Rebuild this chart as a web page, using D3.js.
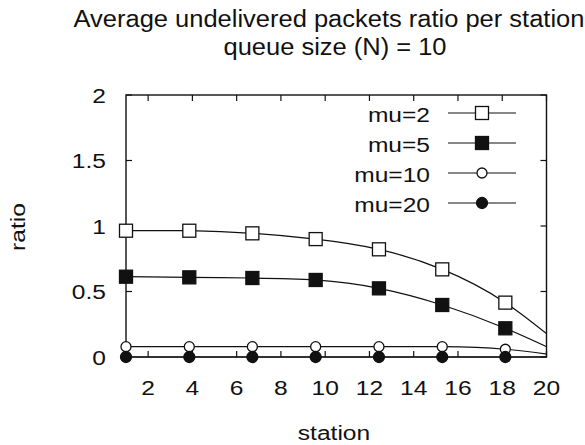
<!DOCTYPE html>
<html>
<head>
<meta charset="utf-8">
<script src="https://cdn.jsdelivr.net/npm/d3@7"></script>
<style>
  body { margin: 0; background: #fff; }
  text { font-family: "Liberation Sans", Arial, sans-serif; fill: #111; }
</style>
</head>
<body>
<div id="chart"></div>
<script>
// data (last point sits past the right edge, clipped)
const stations = [1, 3.86, 6.71, 9.57, 12.43, 15.29, 18.14, 21]
const mu2  = [0.964, 0.964, 0.944, 0.900, 0.822, 0.669, 0.415, 0.04]
const mu5  = [0.613, 0.608, 0.603, 0.588, 0.524, 0.397, 0.219, 0.0]
const mu10 = [0.079, 0.079, 0.079, 0.079, 0.079, 0.079, 0.059, 0.0]
const mu20 = [0, 0, 0, 0, 0, 0, 0, 0]
const seriesNames = ['mu=2', 'mu=5', 'mu=10', 'mu=20']
const xTicks = [2, 4, 6, 8, 10, 12, 14, 16, 18, 20]
const yTicks = [0, 0.5, 1, 1.5, 2]

const dim = { width: 585, height: 445, left: 126, right: 546.5, top: 95, bottom: 357 }
const fontSize = 21
const stretch = 1.17   // the picture's lettering is a bit wide

const svg = d3.select('#chart')
    .append('svg')
    .attr('width', dim.width)
    .attr('height', dim.height)

const xScale = d3.scaleLinear().domain([1, 20]).range([dim.left, dim.right])
const yScale = d3.scaleLinear().domain([0, 2]).range([dim.bottom, dim.top])

// place a text at (x, y), stretched horizontally
function label(parent, x, y, txt, anchor, size, sx, rot) {
    return parent.append('text')
        .attr('transform', `translate(${x},${y})` + (rot ? ` rotate(${rot})` : '') + ` scale(${sx},1)`)
        .attr('text-anchor', anchor)
        .style('font-size', size + 'px')
        .text(txt)
}

svg.append('clipPath').attr('id', 'plot-clip')
    .append('rect')
    .attr('x', dim.left).attr('y', dim.top - 10)
    .attr('width', dim.right - dim.left).attr('height', dim.bottom - dim.top + 20)

// title
label(svg, 329, 27, 'Average undelivered packets ratio per station', 'middle', 23.5, 1.085)
label(svg, 335, 55, 'queue size (N) = 10', 'middle', 23.5, 1.085)

// frame
svg.append('rect')
    .attr('x', dim.left).attr('y', dim.top)
    .attr('width', dim.right - dim.left).attr('height', dim.bottom - dim.top)
    .attr('fill', 'none').attr('stroke', '#111').attr('stroke-width', 1.4)

// ticks (inward, mirrored)
const tickLen = 6
const tk = svg.append('g').attr('stroke', '#111').attr('stroke-width', 1.2)
xTicks.forEach(t => {
    tk.append('line').attr('x1', xScale(t)).attr('x2', xScale(t))
        .attr('y1', dim.bottom).attr('y2', dim.bottom - tickLen)
    tk.append('line').attr('x1', xScale(t)).attr('x2', xScale(t))
        .attr('y1', dim.top).attr('y2', dim.top + tickLen)
})
yTicks.forEach(t => {
    tk.append('line').attr('x1', dim.left).attr('x2', dim.left + tickLen)
        .attr('y1', yScale(t)).attr('y2', yScale(t))
    tk.append('line').attr('x1', dim.right).attr('x2', dim.right - tickLen)
        .attr('y1', yScale(t)).attr('y2', yScale(t))
})

const xl = svg.append('g')
xTicks.forEach(t => label(xl, xScale(t), 395, t, 'middle', fontSize, stretch))
const yl = svg.append('g')
yTicks.forEach(t => label(yl, 106, yScale(t) + 7.7, t, 'end', fontSize, stretch))

label(svg, 334, 440, 'station', 'middle', fontSize, stretch)
label(svg, 24.5, 227, 'ratio', 'middle', fontSize, stretch, -90)

// series
const series = [mu2, mu5, mu10, mu20].map((vals, i) => ({
    name: seriesNames[i],
    points: stations.map((s, j) => ({ x: s, y: vals[j] }))
}))

const markers = [
    { shape: 'square', fill: '#fff', size: 13 },
    { shape: 'square', fill: '#111', size: 13 },
    { shape: 'circle', fill: '#fff', size: 5 },
    { shape: 'circle', fill: '#111', size: 5.5 }
]

function drawMarker(g, m, cx, cy) {
    if (m.shape === 'square') {
        g.append('rect')
            .attr('x', cx - m.size / 2).attr('y', cy - m.size / 2)
            .attr('width', m.size).attr('height', m.size)
            .attr('fill', m.fill).attr('stroke', '#111').attr('stroke-width', 1.3)
    } else {
        g.append('circle')
            .attr('cx', cx).attr('cy', cy).attr('r', m.size)
            .attr('fill', m.fill).attr('stroke', '#111').attr('stroke-width', 1.3)
    }
}

const line = d3.line()
    .x(d => xScale(d.x))
    .y(d => yScale(d.y))
    .curve(d3.curveNatural)

const plot = svg.append('g')
series.forEach(s => {
    plot.append('path')
        .attr('d', line(s.points))
        .attr('clip-path', 'url(#plot-clip)')
        .attr('fill', 'none')
        .attr('stroke', '#111')
        .attr('stroke-width', 1.2)
})
series.forEach((s, i) => {
    const g = plot.append('g')
    s.points.filter(p => p.x <= 20).forEach(p => {
        drawMarker(g, markers[i], xScale(p.x), yScale(p.y))
    })
})

// legend
const legend = svg.append('g')
seriesNames.forEach((name, i) => {
    const y = 113 + i * 30
    label(legend, 430, y + 8.5, name, 'end', fontSize, stretch)
    legend.append('line')
        .attr('x1', 448).attr('x2', 516)
        .attr('y1', y).attr('y2', y)
        .attr('stroke', '#111').attr('stroke-width', 1.2)
    drawMarker(legend, markers[i], 482, y)
})
</script>
</body>
</html>
